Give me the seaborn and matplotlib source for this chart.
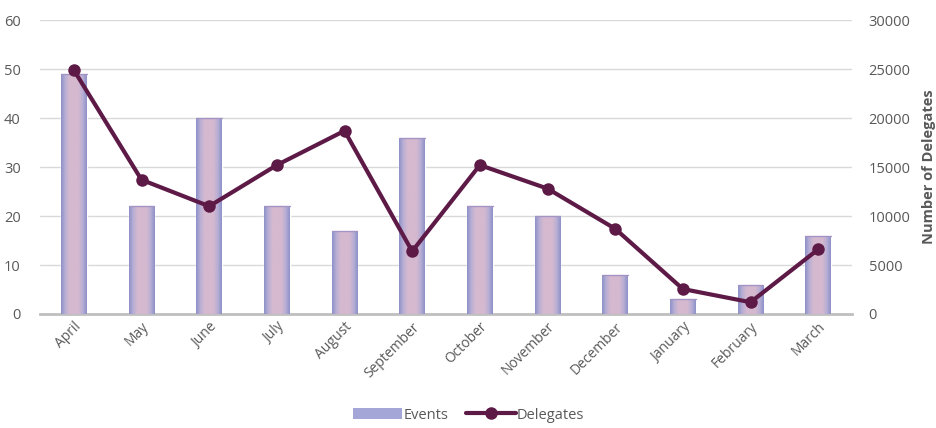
import numpy as np
import pandas as pd
import matplotlib
matplotlib.use("Agg")
import matplotlib.pyplot as plt
from matplotlib.colors import LinearSegmentedColormap
from matplotlib.patches import Patch
from matplotlib.lines import Line2D
import seaborn as sns

months = ["April", "May", "June", "July", "August", "September", "October",
          "November", "December", "January", "February", "March"]
events = [49, 22, 40, 22, 17, 36, 22, 20, 8, 3, 6, 16]
delegates = [24900, 13700, 11000, 15200, 18700, 6400, 15200, 12800, 8700, 2550, 1200, 6600]
left_ticks = [0, 10, 20, 30, 40, 50, 60]
right_ticks = [0, 5000, 10000, 15000, 20000, 25000, 30000]

df = pd.DataFrame({"Month": months, "Events": events, "Delegates": delegates})

sns.set_theme(style="white")
plt.rcParams["font.family"] = ["Open Sans", "DejaVu Sans"]

text_col = "#595959"
line_col = "#5E1A47"
edge_blue = "#8C90C8"
mid_pink = "#D5B9CF"

fig = plt.figure(figsize=(9.37, 4.28), dpi=100)
ax = fig.add_axes([0.0427, 0.2664, 0.8666, 0.6866])

sns.barplot(data=df, x="Month", y="Events", ax=ax, color=mid_pink, width=0.38,
            saturation=1, zorder=2)

# blue-edged, pink-centred shading inside each bar
cmap = LinearSegmentedColormap.from_list(
    "bar", [edge_blue, "#B9AFD5", mid_pink, mid_pink, mid_pink, "#B9AFD5", edge_blue])
grad = np.linspace(0, 1, 256).reshape(1, -1)
for p in ax.patches:
    x0, y0 = p.get_x(), p.get_y()
    w, h = p.get_width(), p.get_height()
    im = ax.imshow(grad, cmap=cmap, aspect="auto", extent=[x0, x0 + w, y0, y0 + h],
                   zorder=3, interpolation="bilinear")
    im.set_clip_path(p)
    ax.plot([x0, x0 + w], [y0 + h, y0 + h], color="#A494C4", lw=1.0, zorder=4)

ax.set_xlim(-0.5, len(months) - 0.5)
ax.set_ylim(0, 60)
ax.set_yticks(left_ticks)
ax.yaxis.grid(True, color="#D9D9D9", lw=1)
ax.set_axisbelow(True)
for s in ["left", "right", "top"]:
    ax.spines[s].set_visible(False)
ax.spines["bottom"].set_color("#BFBFBF")
ax.spines["bottom"].set_linewidth(2)
ax.set_xlabel("")
ax.set_ylabel("")
ax.tick_params(axis="y", labelsize=10.5, colors=text_col, length=0, pad=14)
ax.tick_params(axis="x", labelsize=10, colors=text_col, length=0, pad=4)
plt.setp(ax.get_xticklabels(), rotation=45, ha="right", rotation_mode="anchor")

ax2 = ax.twinx()
sns.lineplot(x=np.arange(len(months)), y=delegates, ax=ax2, color=line_col, lw=3,
             marker="o", markersize=9, markeredgewidth=0, sort=False, zorder=5)
ax2.set_ylim(0, 30000)
ax2.set_yticks(right_ticks)
for s in ["left", "right", "top", "bottom"]:
    ax2.spines[s].set_visible(False)
ax2.tick_params(axis="y", labelsize=10.5, colors=text_col, length=0, pad=12)
ax2.set_ylabel("Number of Delegates", fontsize=10.5, fontweight="bold",
               color=text_col, labelpad=8)

handles = [Patch(facecolor="#A3A6D6", edgecolor="none", label="Events"),
           Line2D([0], [0], color=line_col, lw=3, marker="o", markersize=8,
                  label="Delegates")]
fig.legend(handles=handles, loc="lower center", bbox_to_anchor=(0.5, -0.018), ncol=2,
           frameon=False, fontsize=10.5, labelcolor=text_col, handlelength=3.4,
           handletextpad=0.1, columnspacing=1.2)

fig.savefig("out.png", dpi=100)
